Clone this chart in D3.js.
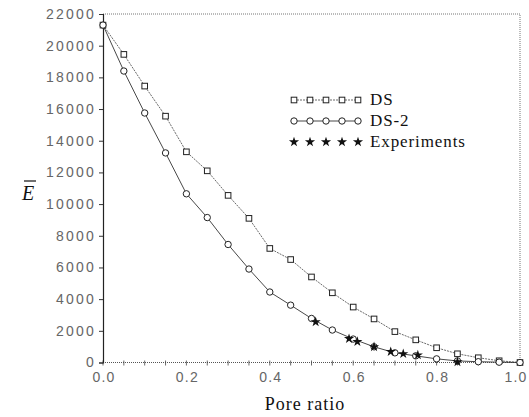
<!DOCTYPE html>
<meta charset="utf-8">
<style>
body { margin: 0; background: #fff; }
.tick text { font: 14px "Liberation Sans", sans-serif; fill: #666; letter-spacing: 2.2px; }
.lbl { font-family: "Liberation Serif", serif; fill: #111; }
</style>
<svg width="529" height="417"></svg>
<script src="https://d3js.org/d3.v7.min.js"></script>
<script>

// pore ratio values for the two model curves
var poreRatio = [0, 0.05, 0.1, 0.15, 0.2, 0.25, 0.3, 0.35, 0.4, 0.45, 0.5,
                 0.55, 0.6, 0.65, 0.7, 0.75, 0.8, 0.85, 0.9, 0.95, 1.0];
var dsValues = [21300, 19450, 17450, 15550, 13300, 12100, 10550, 9100, 7200, 6500, 5400,
                4400, 3500, 2750, 1950, 1430, 930, 550, 300, 110, 0];
var ds2Values = [21300, 18400, 15750, 13230, 10650, 9150, 7450, 5900, 4450, 3620, 2780,
                 2050, 1480, 990, 610, 420, 230, 100, 50, 20, 0];
// experimental points
var expRatio = [0.51, 0.59, 0.61, 0.65, 0.69, 0.72, 0.755, 0.85];
var expValues = [2560, 1500, 1320, 990, 680, 550, 470, 30];

var xTicks = [0, 0.2, 0.4, 0.6, 0.8, 1.0];
var yTicks = [0, 2000, 4000, 6000, 8000, 10000, 12000, 14000, 16000, 18000, 20000, 22000];
var legendNames = ["DS", "DS-2", "Experiments"];

var svg = d3.select("svg");
var x = d3.scaleLinear().domain([0, 1]).range([103, 520]);
var y = d3.scaleLinear().domain([0, 22000]).range([362.5, 14]);

// frame: dotted top and right
svg.append("path")
    .attr("d", "M" + x(0) + "," + y(22000) + "H" + x(1) + "V" + y(0))
    .attr("fill", "none").attr("stroke", "#777").attr("stroke-width", 1)
    .attr("stroke-dasharray", "1,1");

// x axis (dotted line, small crossing ticks)
var xMinor = d3.range(0, 1.001, 0.05);
svg.append("line")
    .attr("x1", x(0)).attr("x2", x(1)).attr("y1", y(0)).attr("y2", y(0))
    .attr("stroke", "#555").attr("stroke-dasharray", "1,1");
svg.selectAll(".xm").data(xMinor).enter().append("line")
    .attr("x1", d => x(d)).attr("x2", d => x(d))
    .attr("y1", y(0) - 2).attr("y2", y(0) + 3)
    .attr("stroke", "#444").attr("stroke-width", 0.8);
svg.selectAll(".xl").data(xTicks).enter().append("text")
    .attr("x", d => Math.min(x(d) + 1, 516)).attr("y", y(0) + 19)
    .attr("text-anchor", "middle")
    .style("font", "14px 'Liberation Sans', sans-serif").style("fill", "#666")
    .style("letter-spacing", "1.2px")
    .text(d => d3.format(".1f")(d));

// y axis
var yAxis = d3.axisLeft(y).tickValues(yTicks).tickSize(4).tickPadding(3)
    .tickFormat(d3.format("d"));
var gy = svg.append("g").attr("transform", "translate(" + x(0) + ",0)").call(yAxis);
gy.select(".domain").attr("stroke", "#222").attr("stroke-width", 1.2);
gy.selectAll(".tick line").attr("stroke", "#333");

// y title E with bar
svg.append("text").attr("class", "lbl")
    .attr("x", 22).attr("y", 200)
    .style("font-size", "20px").style("font-style", "italic")
    .text("E");
svg.append("line").attr("x1", 24).attr("x2", 36).attr("y1", 181).attr("y2", 181)
    .attr("stroke", "#111").attr("stroke-width", 1.2);

// x title
svg.append("text").attr("class", "lbl")
    .attr("x", 305).attr("y", 410).attr("text-anchor", "middle")
    .style("font-size", "18px").style("letter-spacing", "1px").text("Pore ratio");

var line = d3.line().x(d => x(d[0])).y(d => y(d[1]));
var dsData = poreRatio.map((p, i) => [p, dsValues[i]]);
var ds2Data = poreRatio.map((p, i) => [p, ds2Values[i]]);
var expData = expRatio.map((p, i) => [p, expValues[i]]);

svg.append("path").datum(dsData).attr("d", line)
    .attr("fill", "none").attr("stroke", "#444").attr("stroke-width", 0.8)
    .attr("stroke-dasharray", "2,1");
svg.append("path").datum(ds2Data).attr("d", line)
    .attr("fill", "none").attr("stroke", "#333").attr("stroke-width", 0.9);

var star = d3.symbol().type(d3.symbolStar).size(32);

function squares(sel, data) {
    sel.selectAll(null).data(data).enter().append("rect")
        .attr("x", d => x(d[0]) - 2.8).attr("y", d => y(d[1]) - 2.8)
        .attr("width", 5.6).attr("height", 5.6)
        .attr("fill", "#fff").attr("stroke", "#222").attr("stroke-width", 1);
}
function circles(sel, data) {
    sel.selectAll(null).data(data).enter().append("circle")
        .attr("cx", d => x(d[0])).attr("cy", d => y(d[1])).attr("r", 3.2)
        .attr("fill", "#fff").attr("stroke", "#222").attr("stroke-width", 1);
}
function stars(sel, data) {
    sel.selectAll(null).data(data).enter().append("path")
        .attr("d", star)
        .attr("transform", d => "translate(" + x(d[0]) + "," + y(d[1]) + ")")
        .attr("fill", "#111");
}

squares(svg.append("g"), dsData);
circles(svg.append("g"), ds2Data);
stars(svg.append("g"), expData);

// legend
var legY = [100, 121, 142];
var legX = d3.range(5).map(i => 294 + i * 16);
var leg = svg.append("g");
leg.append("line").attr("x1", legX[0]).attr("x2", legX[4]).attr("y1", legY[0]).attr("y2", legY[0])
    .attr("stroke", "#444").attr("stroke-width", 0.8).attr("stroke-dasharray", "2,1");
leg.append("line").attr("x1", legX[0]).attr("x2", legX[4]).attr("y1", legY[1]).attr("y2", legY[1])
    .attr("stroke", "#333").attr("stroke-width", 0.9);
leg.selectAll(null).data(legX).enter().append("rect")
    .attr("x", d => d - 2.8).attr("y", legY[0] - 2.8).attr("width", 5.6).attr("height", 5.6)
    .attr("fill", "#fff").attr("stroke", "#222");
leg.selectAll(null).data(legX).enter().append("circle")
    .attr("cx", d => d).attr("cy", legY[1]).attr("r", 3.2)
    .attr("fill", "#fff").attr("stroke", "#222");
leg.selectAll(null).data(legX).enter().append("path")
    .attr("d", star).attr("transform", d => "translate(" + d + "," + legY[2] + ")")
    .attr("fill", "#111");
leg.selectAll(null).data(legendNames).enter().append("text").attr("class", "lbl")
    .attr("x", 370).attr("y", (d, i) => legY[i] + 5)
    .style("font-size", "17px").style("letter-spacing", "0.9px").text(d => d);

</script>
